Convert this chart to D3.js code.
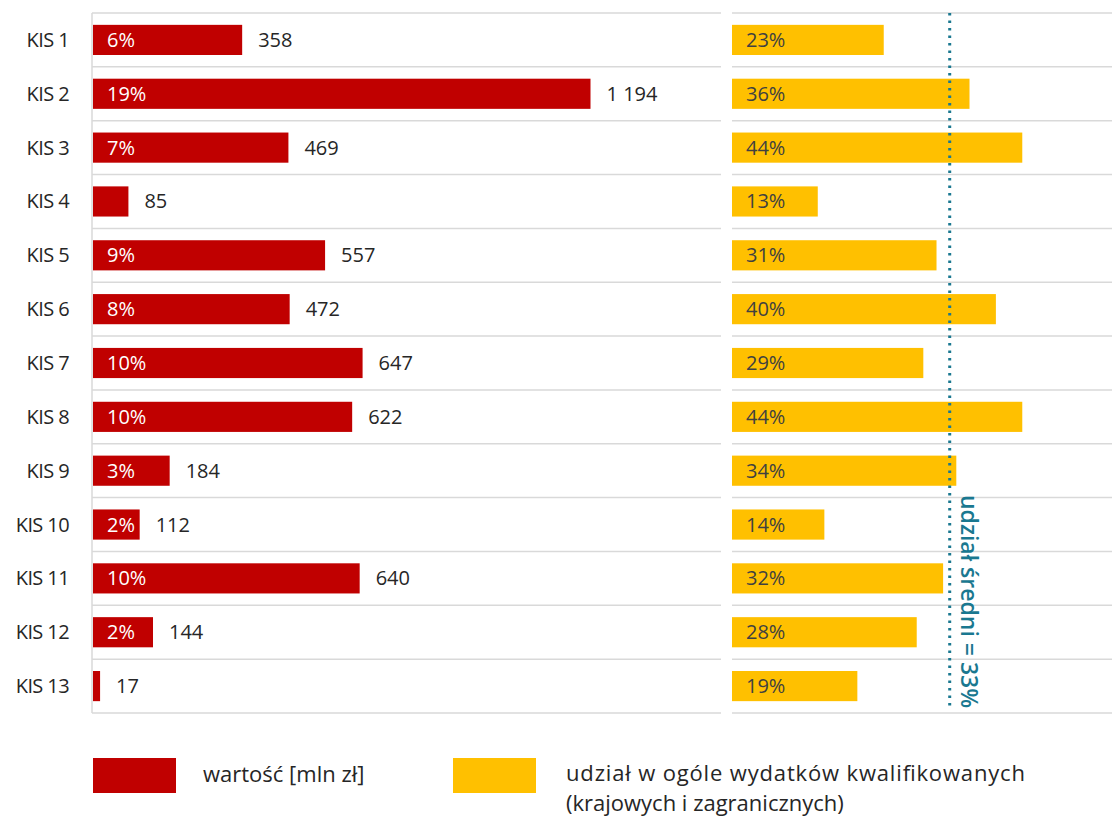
<!DOCTYPE html>
<html>
<head>
<meta charset="utf-8">
<script src="https://cdn.jsdelivr.net/npm/d3@7"></script>
<style>
  body { margin: 0; background: #fff; }
  text { font-family: "Open Sans", sans-serif; }
</style>
</head>
<body>
<script>
let categories = ["KIS 1", "KIS 2", "KIS 3", "KIS 4", "KIS 5", "KIS 6", "KIS 7",
  "KIS 8", "KIS 9", "KIS 10", "KIS 11", "KIS 12", "KIS 13"];
let values = [358, 1194, 469, 85, 557, 472, 647, 622, 184, 112, 640, 144, 17];
let shareLabels = ["6%", "19%", "7%", "", "9%", "8%", "10%", "10%", "3%", "2%", "10%", "2%", ""];
let shareQualified = [23, 36, 44, 13, 31, 40, 29, 44, 34, 14, 32, 28, 19];
let average = 33;

let red = "#C00000", yellow = "#FFC000", grid = "#d9d9d9", teal = "#1a7890";

let svg = d3.select("body").append("svg")
  .attr("width", 1112)
  .attr("height", 817);

let y = d3.scaleBand()
  .domain(categories)
  .range([13, 713])
  .paddingInner(0.44)
  .paddingOuter(0.22);

let bounds = d3.range(categories.length + 1).map(i => 13 + i * 700 / categories.length);

let xL = d3.scaleLinear().domain([0, 1500]).range([93, 718]);
let xR = d3.scaleLinear().domain([0, 57.6]).range([732, 1112]);

let mid = i => y(categories[i]) + y.bandwidth() / 2;

// grid lines
svg.selectAll("line.gl").data(bounds).enter().append("line")
  .attr("x1", 92).attr("x2", 721)
  .attr("y1", d => d).attr("y2", d => d)
  .attr("stroke", grid).attr("stroke-width", 1.5);
svg.selectAll("line.gr").data(bounds).enter().append("line")
  .attr("x1", 732).attr("x2", 1112)
  .attr("y1", d => d).attr("y2", d => d)
  .attr("stroke", grid).attr("stroke-width", 1.5);
svg.append("line")
  .attr("x1", 92).attr("x2", 92).attr("y1", 13).attr("y2", 713)
  .attr("stroke", grid).attr("stroke-width", 1.5);

// category labels
svg.selectAll("text.cat").data(categories).enter().append("text")
  .attr("x", 69)
  .attr("y", (d, i) => mid(i))
  .attr("dy", "0.35em")
  .attr("text-anchor", "end")
  .attr("font-size", 20)
  .attr("letter-spacing", -0.6)
  .attr("fill", "#262626")
  .text(d => d);

// left bars
svg.selectAll("rect.l").data(values).enter().append("rect")
  .attr("x", xL(0))
  .attr("y", (d, i) => y(categories[i]))
  .attr("width", d => xL(d) - xL(0))
  .attr("height", y.bandwidth())
  .attr("fill", red);

svg.selectAll("text.sl").data(shareLabels).enter().append("text")
  .attr("x", xL(0) + 14)
  .attr("y", (d, i) => mid(i))
  .attr("dy", "0.35em")
  .attr("font-size", 20)
  .attr("fill", "#fff")
  .text(d => d);

svg.selectAll("text.v").data(values).enter().append("text")
  .attr("x", d => xL(d) + 16)
  .attr("y", (d, i) => mid(i))
  .attr("dy", "0.35em")
  .attr("font-size", 20)
  .attr("fill", "#262626")
  .text(d => d3.format(",")(d).replace(/,/g, " "));

// right bars
svg.selectAll("rect.r").data(shareQualified).enter().append("rect")
  .attr("x", xR(0))
  .attr("y", (d, i) => y(categories[i]))
  .attr("width", d => xR(d) - xR(0))
  .attr("height", y.bandwidth())
  .attr("fill", yellow);

svg.selectAll("text.r").data(shareQualified).enter().append("text")
  .attr("x", xR(0) + 14)
  .attr("y", (d, i) => mid(i))
  .attr("dy", "0.35em")
  .attr("font-size", 20)
  .attr("fill", "#404040")
  .text(d => d + "%");

// average line
svg.append("line")
  .attr("x1", xR(average)).attr("x2", xR(average))
  .attr("y1", 13).attr("y2", 710)
  .attr("stroke", teal).attr("stroke-width", 3)
  .attr("stroke-dasharray", "2.5 5");

svg.append("text")
  .attr("transform", `translate(${xR(average) + 11},${495}) rotate(90)`)
  .attr("font-size", 23)
  .attr("font-weight", 600)
  .attr("fill", teal)
  .text("udział średni = 33%");

// legend
let legend = svg.append("g");
legend.append("rect").attr("x", 93).attr("y", 758).attr("width", 83).attr("height", 35).attr("fill", red);
legend.append("text").attr("x", 203).attr("y", 782).attr("font-size", 22).attr("fill", "#262626")
  .text("wartość [mln zł]");
legend.append("rect").attr("x", 453).attr("y", 758).attr("width", 83).attr("height", 35).attr("fill", yellow);
legend.append("text").attr("x", 566).attr("y", 781).attr("font-size", 22).attr("fill", "#262626")
  .attr("textLength", 459).attr("lengthAdjust", "spacing")
  .text("udział w ogóle wydatków kwalifikowanych");
legend.append("text").attr("x", 566).attr("y", 811).attr("font-size", 22).attr("fill", "#262626")
  .text("(krajowych i zagranicznych)");
</script>
</body>
</html>
